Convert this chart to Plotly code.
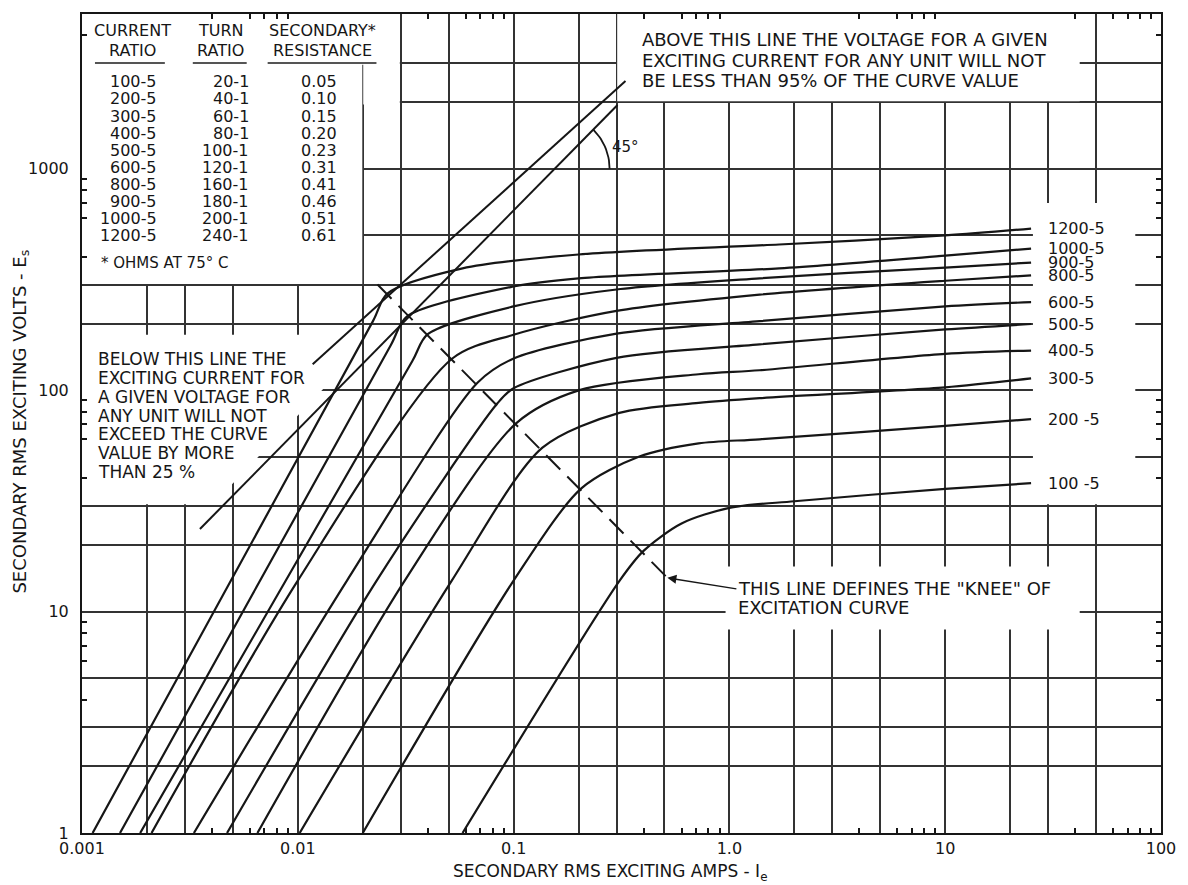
import numpy as np
import plotly.graph_objects as go

# ---------------- excitation curves (secondary exciting amps, secondary exciting volts) ----------------
amps_100 = [0.058, 0.31, 0.40, 0.60, 1.0, 2.0, 10, 25]
volts_100 = [1, 13.8, 18.8, 25.0, 29.4, 31.5, 35.8, 38]

amps_200 = [0.020, 0.10, 0.206, 0.38, 0.72, 1.38, 10, 25]
volts_200 = [1, 13.8, 36, 50, 57.5, 60, 69, 74]

amps_300 = [0.0102, 0.0517, 0.136, 0.309, 0.72, 1.38, 10, 25]
volts_300 = [1, 13.8, 55, 79, 87.6, 92, 103, 113]

amps_400 = [0.0065, 0.0313, 0.103, 0.202, 0.72, 1.38, 10, 25]
volts_400 = [1, 13.8, 71, 100, 118, 123, 146, 151]

amps_500 = [0.0047, 0.0232, 0.084, 0.10, 0.30, 1.38, 10, 25]
volts_500 = [1, 13.8, 87, 102, 140, 161, 188, 199]

amps_600 = [0.0033, 0.0169, 0.068, 0.10, 0.30, 1.38, 10, 25]
volts_600 = [1, 13.8, 108, 139, 180, 205, 239, 250]

amps_800 = [0.0021, 0.0100, 0.052, 0.10, 0.30, 1.38, 10, 25]
volts_800 = [1, 13.8, 139, 178, 228, 270, 312, 330]

amps_900 = [0.00186, 0.0339, 0.040, 0.10, 0.30, 1.38, 10, 25]
volts_900 = [1, 135, 179, 239, 285, 320, 358, 377]

amps_1000 = [0.0015, 0.0270, 0.032, 0.10, 0.20, 1.7, 10, 25]
volts_1000 = [1, 160, 215, 294, 320, 355, 405, 436]

amps_1200 = [0.00112, 0.0223, 0.026, 0.058, 0.20, 1.7, 10, 25]
volts_1200 = [1, 205, 273, 355, 410, 455, 500, 537]

curve_names = ["100 -5", "200 -5", "300-5", "400-5", "500-5", "600-5", "800-5", "900-5", "1000-5", "1200-5"]
curve_amps = [amps_100, amps_200, amps_300, amps_400, amps_500, amps_600, amps_800, amps_900, amps_1000, amps_1200]
curve_volts = [volts_100, volts_200, volts_300, volts_400, volts_500, volts_600, volts_800, volts_900, volts_1000, volts_1200]

# ---------------- table of ratios ----------------
current_ratio = ["100-5", "200-5", "300-5", "400-5", "500-5", "600-5", "800-5", "900-5", "1000-5", "1200-5"]
turn_ratio = ["20-1", "40-1", "60-1", "80-1", "100-1", "120-1", "160-1", "180-1", "200-1", "240-1"]
sec_resistance = ["0.05", "0.10", "0.15", "0.20", "0.23", "0.31", "0.41", "0.46", "0.51", "0.61"]

# ---------------- reference lines ----------------
limit_45_amps = [0.00352, 0.303]          # 45 degree line
limit_45_volts = [23.6, 1941]
limit_upper_amps = [0.01172, 0.330]       # tolerance line
limit_upper_volts = [131, 2490]
knee_amps = [0.0234, 0.516]               # locus of the knee points
knee_volts = [300, 14.2]

# ---------------- tick values ----------------
x_major = [m * 10.0 ** e for e in range(-3, 2) for m in (1, 2, 3, 5)] + [100]
x_minor = [m * 10.0 ** e for e in range(-3, 2) for m in (4, 6, 7, 8, 9)]
y_major = [m * 10.0 ** e for e in range(0, 4) for m in (1, 2, 3, 5)]
y_minor = [m * 10.0 ** e for e in range(0, 4) for m in (4, 6, 7, 8, 9)]
x_labels = {0.001: "0.001", 0.01: "0.01", 0.1: "0.1", 1: "1.0", 10: "10", 100: "100"}
y_labels = {1: "1", 10: "10", 100: "100", 1000: "1000"}

# notes drawn line by line
above_note = ["ABOVE THIS LINE THE VOLTAGE FOR A GIVEN",
              "EXCITING CURRENT FOR ANY UNIT WILL NOT",
              "BE LESS THAN 95% OF THE CURVE VALUE"]
below_note = ["BELOW THIS LINE THE", "EXCITING CURRENT FOR", "A GIVEN VOLTAGE FOR",
              "ANY UNIT WILL NOT", "EXCEED THE CURVE", "VALUE BY MORE", "THAN 25 %"]
knee_note = ['THIS LINE DEFINES THE "KNEE" OF', "EXCITATION CURVE"]

# plot area geometry (pixels) used to place free text
L, R, T, B = 82, 1163, 13, 833
W, H = 1188, 885


def paper(xp, yp):
    return (xp - L) / (R - L), (B - yp) / (B - T)


FONT = "DejaVu Sans"
INK = "#161616"

fig = go.Figure()

# white panels behind the notes (they hide the grid, not the curves)
masks = [
    ([0.001, 0.0199, 0.0199, 0.001], [302, 302, 5000, 5000]),
    ([0.0195, 0.0297, 0.0297, 0.0201, 0.0201, 0.0195], [5000, 5000, 1950, 1950, 2950, 2950]),
    ([0.302, 42, 42, 0.302], [2020, 2020, 5000, 5000]),
    ([25.5, 76, 76, 25.5], [30.5, 30.5, 700, 700]),
    ([0.96, 42, 42, 0.96], [8.3, 8.3, 16, 16]),
    ([0.001, 0.00404, 0.01334, 0.01563, 0.001], [30.5, 30.5, 103, 178, 178]),
]
for mx, my in masks:
    fig.add_trace(go.Scatter(x=mx, y=my, fill="toself", fillcolor="white", mode="lines",
                             line=dict(width=0, color="white"), hoverinfo="skip", showlegend=False))

for name, a, v in zip(curve_names, curve_amps, curve_volts):
    fig.add_trace(go.Scatter(x=a, y=v, mode="lines", name=name,
                             line=dict(color=INK, width=2.2, shape="spline", smoothing=0.8),
                             showlegend=False))

fig.add_trace(go.Scatter(x=limit_45_amps, y=limit_45_volts, mode="lines",
                         line=dict(color=INK, width=2), showlegend=False))
fig.add_trace(go.Scatter(x=limit_upper_amps, y=limit_upper_volts, mode="lines",
                         line=dict(color=INK, width=2), showlegend=False))
fig.add_trace(go.Scatter(x=knee_amps, y=knee_volts, mode="lines",
                         line=dict(color=INK, width=2, dash="20px,10px"), showlegend=False))

# 45 degree angle marker at the crossing of the 45 degree line with the 1000 V grid line
lx0, lx1 = np.log10(limit_45_amps)
ly0, ly1 = np.log10(limit_45_volts)
cx = lx0 + (3.0 - ly0) * (lx1 - lx0) / (ly1 - ly0)
theta = np.linspace(0, np.pi / 4, 16)
arc_r = 55.0
fig.add_trace(go.Scatter(x=10 ** (cx + arc_r / 216.2 * np.cos(theta)),
                         y=10 ** (3.0 + arc_r / 221.7 * np.sin(theta)),
                         mode="lines", line=dict(color=INK, width=1.8), showlegend=False))

ann = []


def note(xp, yp, text, size=16, xanchor="left", angle=0):
    px_, py_ = paper(xp, yp)
    ann.append(dict(x=px_, y=py_, xref="paper", yref="paper", text=text, showarrow=False,
                    xanchor=xanchor, yanchor="middle", textangle=angle,
                    font=dict(family=FONT, size=size, color=INK)))


# table
for x, top, bottom in [(133, "CURRENT", "RATIO"), (221, "TURN", "RATIO"), (323, "SECONDARY*", "RESISTANCE")]:
    note(x, 30, top, size=16, xanchor="center")
    note(x, 50, bottom, size=16, xanchor="center")
row_y0, row_dy = 81, 17.1
for i, (c, t, r) in enumerate(zip(current_ratio, turn_ratio, sec_resistance)):
    y = row_y0 + i * row_dy
    note(159, y, c, size=16, xanchor="right")
    note(251, y, t, size=16, xanchor="right")
    note(299, y, r, size=16)
note(99, 262, "* OHMS AT 75° C", size=15)

for i, line in enumerate(above_note):
    note(641, 39 + i * 20.5, line, size=18)
for i, line in enumerate(below_note):
    note(96, 358 + i * 19.0, line, size=17)
note(611, 146, "45°", size=15)

# curve labels at the right-hand end of every curve
for name, a, v in zip(curve_names, curve_amps, curve_volts):
    ann.append(dict(x=np.log10(29.4), y=np.log10(v[-1]), xref="x", yref="y", text=name,
                    showarrow=False, xanchor="left", yanchor="middle",
                    font=dict(family=FONT, size=16, color=INK)))

# knee note, first line carries the arrow to the end of the knee line
ann.append(dict(x=np.log10(knee_amps[-1]), y=np.log10(knee_volts[-1]), xref="x", yref="y",
                text=knee_note[0], showarrow=True, ax=69, ay=11, xanchor="left", yanchor="middle",
                arrowhead=2, arrowsize=1.2, arrowwidth=1.5, arrowcolor=INK,
                font=dict(family=FONT, size=18, color=INK)))
note(737, 607, knee_note[1], size=18)

# axis titles
note(611, 873, "SECONDARY RMS EXCITING AMPS - I<sub>e</sub>", size=17, xanchor="center")
note(20, 421, "SECONDARY RMS EXCITING VOLTS - E<sub>s</sub>", size=18, xanchor="center", angle=-90)

fig.update_layout(annotations=ann)

# header underlines
shapes = []
for x0, x1 in [(95, 165), (193, 247), (268, 377)]:
    p0, py = paper(x0, 62)
    p1, _ = paper(x1, 62)
    shapes.append(dict(type="line", xref="paper", yref="paper", x0=p0, x1=p1, y0=py, y1=py,
                       line=dict(color="#555", width=2)))
fig.update_layout(shapes=shapes)

axis_common = dict(
    type="log", showline=True, linewidth=2, linecolor=INK, mirror="allticks",
    showgrid=True, gridcolor="#333333", gridwidth=1.5, ticks="", zeroline=False,
    tickfont=dict(family=FONT, size=16, color=INK),
)
fig.update_xaxes(**axis_common, range=[-3, 2], tickmode="array", tickvals=x_major,
                 ticktext=[x_labels.get(round(v, 6), "") for v in x_major],
                 minor=dict(tickmode="array", tickvals=x_minor, ticks="inside", ticklen=5,
                            tickcolor=INK, tickwidth=1.5, showgrid=False))
fig.update_yaxes(**axis_common, range=[0, np.log10(5000)], tickmode="array", tickvals=y_major,
                 ticktext=[y_labels.get(round(v, 6), "") for v in y_major], ticklabelstandoff=8,
                 minor=dict(tickmode="array", tickvals=y_minor, ticks="inside", ticklen=5,
                            tickcolor=INK, tickwidth=1.5, showgrid=False))

fig.update_layout(width=W, height=H, margin=dict(l=L, r=W - R, t=T, b=H - B, pad=0),
                  plot_bgcolor="white", paper_bgcolor="white", showlegend=False)

fig.write_html("out.html")
